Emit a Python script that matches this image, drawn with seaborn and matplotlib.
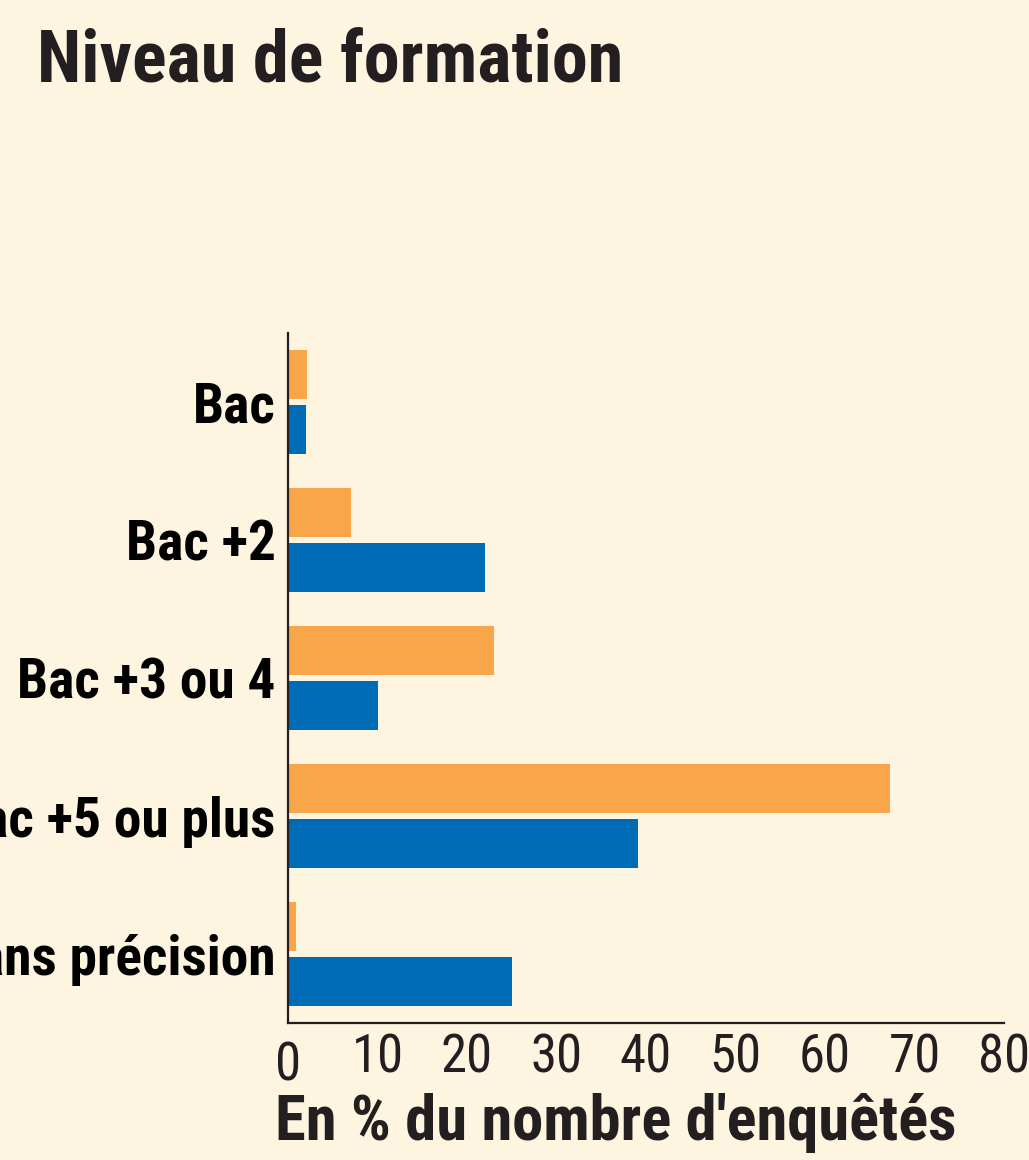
import matplotlib
matplotlib.use("Agg")
import matplotlib.pyplot as plt
import matplotlib.transforms as mtransforms
import seaborn as sns
import pandas as pd

# Data
categories = ["Bac", "Bac +2", "Bac +3 ou 4", "Bac +5 ou plus", "Sans précision"]
serie_orange = [2.1, 7.0, 23.0, 67.3, 0.9]
serie_bleue = [2.0, 22.0, 10.0, 39.1, 25.0]
x_ticks = [0, 10, 20, 30, 40, 50, 60, 70, 80]

bg = "#FEF5E1"
ink = "#231F20"
orange = "#F9A64A"
blue = "#006BB6"

df = pd.DataFrame({
    "niveau": categories * 2,
    "valeur": serie_orange + serie_bleue,
    "serie": ["orange"] * len(categories) + ["bleue"] * len(categories),
})

sns.set_style("white")
plt.rcParams["font.family"] = ["Roboto Condensed", "DejaVu Sans"]

fig = plt.figure(figsize=(10.29, 11.6), dpi=100, facecolor=bg)
ax = fig.add_axes([0.2799, 0.1181, 0.6958, 0.5948])
ax.set_facecolor(bg)

sns.barplot(data=df, x="valeur", y="niveau", hue="serie", orient="h",
            palette={"orange": orange, "bleue": blue}, width=0.8, gap=0.1,
            saturation=1, legend=False, ax=ax, order=categories,
            linewidth=0, edgecolor="none")

ax.set_xlim(0, 80)
ax.set_ylim(4.5, -0.5)
ax.set_xticks(x_ticks)
ax.set_xticklabels([str(t) for t in x_ticks])

for side in ["top", "right"]:
    ax.spines[side].set_visible(False)
for side in ["left", "bottom"]:
    ax.spines[side].set_color(ink)
    ax.spines[side].set_linewidth(1.6)

ax.tick_params(axis="x", direction="inout", length=12, width=1.5, color=ink,
               labelsize=38, labelcolor=ink, pad=1)
ax.tick_params(axis="y", length=0, pad=9, labelsize=40, labelcolor="black")
for lab in ax.get_yticklabels():
    lab.set_fontweight("bold")

# the "0" sits a little lower than the other tick labels
zero = ax.get_xticklabels()[0]
zero.set_transform(zero.get_transform() +
                   mtransforms.ScaledTranslation(0, -8 / 100, fig.dpi_scale_trans))

ax.set_ylabel("")
ax.set_xlabel("En % du nombre d'enquêtés", fontsize=45, fontweight="bold",
              color=ink)
ax.xaxis.label.set_horizontalalignment("left")
ax.xaxis.label.set_verticalalignment("baseline")
ax.xaxis.set_label_coords(-0.018, -0.170)

fig.text(0.036, 0.930, "Niveau de formation", fontsize=52, fontweight="bold",
         color=ink, ha="left", va="baseline")

fig.savefig("out.png", dpi=100, facecolor=bg)
